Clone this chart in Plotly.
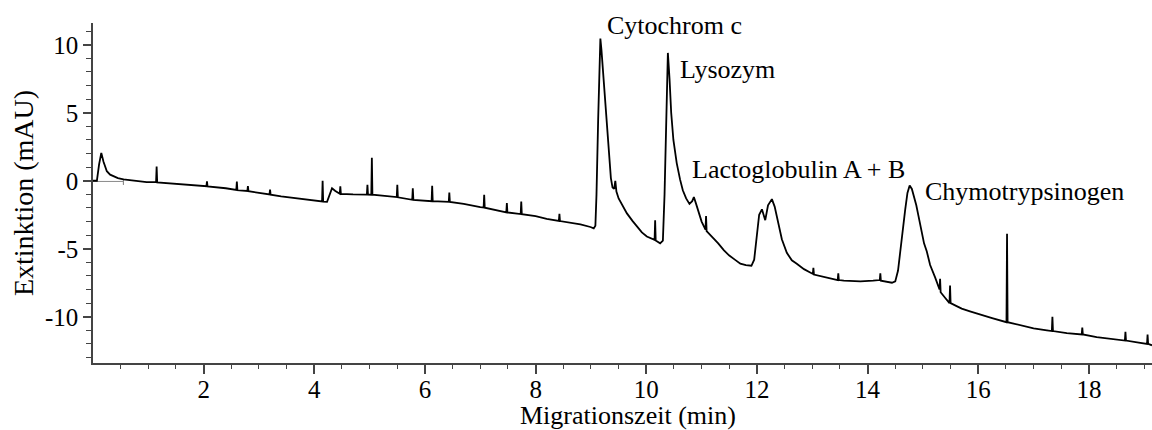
import plotly.graph_objects as go

# Electropherogram trace (time in min, signal in mAU)
time_min = [
    0.00, 0.07, 0.11, 0.15, 0.19, 0.25, 0.31, 0.37, 0.45, 0.55, 0.75, 0.97,
    1.14, 1.15, 1.16, 1.5, 2.05, 2.06, 2.07, 2.4, 2.59, 2.60, 2.61, 2.79, 2.80, 2.81,
    3.02, 3.19, 3.20, 3.21, 3.4, 3.8, 4.14, 4.15, 4.16, 4.23, 4.26, 4.29, 4.32, 4.38,
    4.46, 4.47, 4.48, 4.7, 4.95, 4.96, 4.97, 5.03, 5.04, 5.05, 5.25, 5.49, 5.50, 5.51,
    5.77, 5.78, 5.79, 6.0, 6.12, 6.13, 6.14, 6.43, 6.44, 6.45, 6.7, 7.0, 7.06, 7.07, 7.08,
    7.47, 7.48, 7.49, 7.6, 7.73, 7.74, 7.75, 8.0, 8.2, 8.42, 8.43, 8.44, 8.81, 8.99,
    9.05, 9.08, 9.10, 9.13, 9.155, 9.17, 9.19, 9.22, 9.26, 9.30, 9.33, 9.36, 9.39,
    9.42, 9.44, 9.46, 9.50, 9.55, 9.65, 9.75, 9.84, 9.92, 10.01, 10.10, 10.15, 10.16,
    10.17, 10.25, 10.30, 10.33, 10.36, 10.39, 10.42, 10.45, 10.49, 10.55, 10.61, 10.66,
    10.72, 10.78, 10.83, 10.86, 10.90, 10.95, 11.00, 11.07, 11.08, 11.09, 11.15, 11.22,
    11.30, 11.40, 11.50, 11.60, 11.70, 11.80, 11.90, 11.95, 12.00, 12.04, 12.09, 12.15,
    12.20, 12.27, 12.32, 12.36, 12.40, 12.45, 12.54, 12.63, 12.72, 12.85, 13.01, 13.02,
    13.03, 13.27, 13.46, 13.47, 13.48, 13.57, 13.87, 14.10, 14.22, 14.23, 14.24, 14.44,
    14.50, 14.55, 14.59, 14.64, 14.68, 14.72, 14.76, 14.80, 14.83, 14.88, 14.92, 14.97,
    15.02, 15.07, 15.13, 15.22, 15.30, 15.31, 15.32, 15.40, 15.48, 15.49, 15.50, 15.60,
    15.70, 15.85, 16.03, 16.25, 16.51, 16.52, 16.53, 16.80, 17.00, 17.24, 17.33, 17.34,
    17.35, 17.60, 17.87, 17.88, 17.89, 18.14, 18.40, 18.65, 18.66, 18.67, 18.90, 19.05,
    19.06, 19.07, 19.14,
]
signal_mau = [
    0.00, 0.00, 1.20, 2.05, 1.40, 0.70, 0.45, 0.32, 0.20, 0.10, 0.00, -0.10,
    -0.10, 1.05, -0.12, -0.22, -0.40, -0.05, -0.42, -0.55, -0.68, -0.05, -0.70, -0.75, -0.40, -0.77,
    -0.90, -1.00, -0.65, -1.02, -1.15, -1.35, -1.52, 0.00, -1.54, -1.55, -1.20, -0.80, -0.55, -0.75,
    -0.95, -0.40, -0.96, -1.00, -1.02, -0.30, -1.02, -1.03, 1.70, -1.03, -1.10, -1.20, -0.30, -1.22,
    -1.40, -0.55, -1.40, -1.45, -1.50, -0.37, -1.50, -1.55, -0.86, -1.56, -1.70, -1.94, -1.97, -1.03, -1.98,
    -2.32, -1.64, -2.33, -2.38, -2.45, -1.52, -2.46, -2.60, -2.80, -2.95, -2.43, -2.96, -3.20, -3.40,
    -3.50, -3.30, -1.00, 4.50, 9.50, 10.45, 9.60, 7.80, 5.80, 3.30, 1.60, 0.20, -0.50,
    -0.60, 0.00, -0.80, -1.30, -1.70, -2.40, -2.95, -3.40, -3.80, -4.10, -4.30, -4.35, -2.90,
    -4.40, -4.60, -4.40, -1.00, 5.00, 9.40, 7.50, 5.00, 3.00, 1.30, 0.10, -0.70,
    -1.30, -1.70, -1.50, -1.20, -1.70, -2.40, -3.00, -3.60, -2.60, -3.70, -3.95, -4.20,
    -4.60, -5.10, -5.50, -5.80, -6.10, -6.20, -6.25, -5.80, -3.80, -2.50, -2.10, -2.90,
    -1.80, -1.35, -1.90, -2.60, -3.50, -4.30, -5.30, -5.85, -6.10, -6.50, -6.85, -6.40,
    -6.90, -7.15, -7.30, -6.80, -7.30, -7.35, -7.40, -7.35, -7.30, -6.80, -7.35, -7.50,
    -7.40, -6.60, -5.10, -3.40, -2.10, -0.90, -0.35, -0.60, -1.00, -1.80, -2.60, -3.70,
    -4.60, -5.20, -6.20, -7.10, -8.00, -7.20, -8.20, -8.60, -9.00, -7.70, -9.00, -9.20,
    -9.40, -9.60, -9.80, -10.10, -10.40, -3.90, -10.40, -10.65, -10.85, -11.00, -11.05, -10.00,
    -11.05, -11.20, -11.30, -10.80, -11.30, -11.50, -11.60, -11.75, -11.10, -11.75, -11.90, -12.00,
    -11.30, -12.00, -12.10,
]

# Grey integration baseline under the first peak
baseline_time = [0.00, 0.55, 0.55, 0.55]
baseline_mau = [-0.05, -0.05, -0.30, 0.15]

# Peak labels
peak_names = ["Cytochrom c", "Lysozym", "Lactoglobulin A + B", "Chymotrypsinogen"]
label_time = [9.26, 10.58, 10.79, 15.01]
label_mau = [11.45, 8.15, 0.80, -0.80]

x_title = "Migrationszeit (min)"
y_title = "Extinktion (mAU)"

x_ticks = [2, 4, 6, 8, 10, 12, 14, 16, 18]
x_minor = [0.5, 1, 1.5, 2.5, 3, 3.5, 4.5, 5, 5.5, 6.5, 7, 7.5, 8.5, 9, 9.5, 10.5, 11, 11.5,
           12.5, 13, 13.5, 14.5, 15, 15.5, 16.5, 17, 17.5, 18.5, 19]
y_ticks = [-10, -5, 0, 5, 10]
y_ticktext = ["-10", "-5", "0", "5", "10"]
y_minor = [-13, -12, -11, -9, -8, -7, -6, -4, -3, -2, -1, 1, 2, 3, 4, 6, 7, 8, 9, 11]

font_family = "Liberation Serif, Times New Roman, serif"
axis_color = "#444444"

fig = go.Figure()
fig.add_trace(go.Scatter(x=baseline_time, y=baseline_mau, mode="lines",
                         line=dict(color="#8a8a8a", width=1), hoverinfo="skip",
                         showlegend=False))
fig.add_trace(go.Scatter(x=time_min, y=signal_mau, mode="lines",
                         line=dict(color="black", width=1.8), showlegend=False))

for name, t, v in zip(peak_names, label_time, label_mau):
    fig.add_annotation(x=t, y=v, xref="x", yref="y", text=name, showarrow=False,
                       xanchor="left", yanchor="middle",
                       font=dict(family=font_family, size=26, color="black"))

# x-axis title placed as a paper annotation so it sits below the tick labels
fig.add_annotation(x=0.505, y=0, xref="paper", yref="paper", text=x_title,
                   showarrow=False, xanchor="center", yanchor="top", yshift=-37,
                   borderpad=0,
                   font=dict(family=font_family, size=26, color="black"))

fig.update_layout(
    width=1152, height=430,
    margin=dict(l=93, r=0, t=23, b=67, autoexpand=False),
    paper_bgcolor="white", plot_bgcolor="white",
    font=dict(family=font_family, color="black"),
)
fig.update_xaxes(
    range=[0, 19.14], showgrid=False, zeroline=False, automargin=False,
    showline=True, linecolor=axis_color, linewidth=1.5,
    tickmode="array", tickvals=x_ticks, ticks="outside", ticklen=9, tickwidth=1.5,
    tickcolor=axis_color, ticklabelstandoff=-6,
    tickfont=dict(size=25, family=font_family, color="black"),
    minor=dict(tickmode="array", tickvals=x_minor, ticks="outside", ticklen=4,
               tickwidth=1.2, tickcolor=axis_color, showgrid=False),
)
fig.update_yaxes(
    range=[-13.4, 11.6], showgrid=False, zeroline=False, automargin=False,
    showline=True, linecolor=axis_color, linewidth=1.5,
    tickmode="array", tickvals=y_ticks, ticktext=y_ticktext, ticks="outside",
    ticklen=8, tickwidth=1.5, tickcolor=axis_color,
    tickfont=dict(size=25, family=font_family, color="black"),
    minor=dict(tickmode="array", tickvals=y_minor, ticks="outside", ticklen=5,
               tickwidth=1.2, tickcolor=axis_color, showgrid=False),
    title=dict(text=y_title, standoff=3,
               font=dict(size=28, family=font_family, color="black")),
)

fig.write_html("out.html")
